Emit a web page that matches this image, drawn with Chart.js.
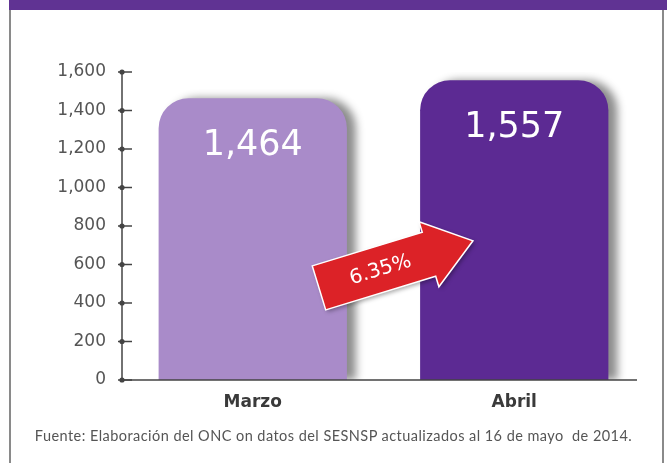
<!DOCTYPE html>
<html>
<head>
<meta charset="utf-8">
<script src="https://cdn.jsdelivr.net/npm/chart.js@4"></script>
<style>
  html, body { margin: 0; padding: 0; background: #fff; }
  #wrap { position: relative; width: 667px; height: 463px; overflow: hidden; }
  #frame { position: absolute; left: 9px; top: 0; width: 651px; height: 463px;
           border-left: 2px solid #8a8a8a; border-right: 2px solid #8a8a8a; }
  #header { position: absolute; left: 9px; top: 0; width: 658px; height: 10px; background: #603393; }
  #chart { position: absolute; left: 0; top: 0; }
  #note { position: absolute; left: 0; width: 667px; top: 427px; text-align: center;
          font-family: Lato, sans-serif; font-size: 14.5px; letter-spacing: 0.45px; color: #555; }
</style>
</head>
<body>
<div id="wrap">
  <div id="frame"></div>
  <div id="header"></div>
  <canvas id="chart" width="667" height="463"></canvas>
  <div id="note">Fuente: Elaboración del ONC on datos del SESNSP actualizados al 16 de mayo&nbsp; de 2014.</div>
</div>
<script>
// data
const months = ['Marzo', 'Abril'];
const counts = [1464, 1557];
const barColors = ['#a98bc9', '#5c2a93'];
const yTicks = [0, 200, 400, 600, 800, 1000, 1200, 1400, 1600];

const fmt = (v) => v.toLocaleString('en-US');

// drop shadow to the right of the bars
const shadowPlugin = {
  id: 'barShadow',
  beforeDatasetDraw(chart) {
    const ctx = chart.ctx;
    ctx.save();
    ctx.shadowColor = 'rgba(0,0,0,0.45)';
    ctx.shadowBlur = 9;
    ctx.shadowOffsetX = 9;
    ctx.shadowOffsetY = 0;
  },
  afterDatasetDraw(chart) { chart.ctx.restore(); }
};

// axis with dot ticks
const axisPlugin = {
  id: 'axisDots',
  afterDraw(chart) {
    const ctx = chart.ctx;
    const y = chart.scales.y, area = chart.chartArea;
    ctx.save();
    ctx.strokeStyle = '#444';
    ctx.fillStyle = '#444';
    ctx.lineWidth = 1.5;
    ctx.beginPath();
    ctx.moveTo(area.left, y.getPixelForValue(1600) - 1);
    ctx.lineTo(area.left, area.bottom);
    ctx.lineTo(area.right - 8, area.bottom);
    ctx.stroke();
    for (const t of yTicks) {
      const py = y.getPixelForValue(t);
      ctx.beginPath();
      ctx.moveTo(area.left - 4, py);
      ctx.lineTo(area.left + 10, py);
      ctx.stroke();
      ctx.beginPath();
      ctx.arc(area.left, py, 2.6, 0, Math.PI * 2);
      ctx.fill();
    }
    ctx.restore();
  }
};

// value labels inside bars and the growth arrow
const labelPlugin = {
  id: 'barLabels',
  afterDatasetsDraw(chart) {
    const ctx = chart.ctx;
    const meta = chart.getDatasetMeta(0);
    ctx.save();
    ctx.fillStyle = '#fff';
    ctx.font = '35px "DejaVu Sans"';
    ctx.textAlign = 'center';
    ctx.textBaseline = 'middle';
    meta.data.forEach((bar, i) => {
      ctx.fillText(fmt(counts[i]), bar.x, bar.y + 48);
    });

    // arrow between the two bars
    const x = chart.scales.x, y = chart.scales.y;
    const cx = (x.getPixelForValue(0) + x.getPixelForValue(1)) / 2 + 12;
    const cy = y.getPixelForValue(600);
    const pct = ((counts[1] - counts[0]) / counts[0] * 100).toFixed(2) + '%';
    ctx.translate(cx, cy);
    ctx.rotate(-17 * Math.PI / 180);
    ctx.beginPath();
    ctx.moveTo(-80, -23);
    ctx.lineTo(35, -23);
    ctx.lineTo(35, -34);
    ctx.lineTo(81, 0);
    ctx.lineTo(35, 34);
    ctx.lineTo(35, 23);
    ctx.lineTo(-80, 23);
    ctx.closePath();
    ctx.shadowColor = 'rgba(0,0,0,0.35)';
    ctx.shadowBlur = 4;
    ctx.shadowOffsetX = 2;
    ctx.shadowOffsetY = 2;
    ctx.fillStyle = '#dc2227';
    ctx.fill();
    ctx.shadowColor = 'transparent';
    ctx.strokeStyle = '#fff';
    ctx.lineWidth = 1.5;
    ctx.stroke();
    ctx.fillStyle = '#fff';
    ctx.font = '20px "DejaVu Sans"';
    ctx.fillText(pct, -16, 1);
    ctx.restore();
  }
};

new Chart(document.getElementById('chart'), {
  type: 'bar',
  data: {
    labels: months,
    datasets: [{
      data: counts,
      backgroundColor: barColors,
      borderWidth: 0,
      borderRadius: { topLeft: 30, topRight: 30, bottomLeft: 0, bottomRight: 0 },
      borderSkipped: false,
      barPercentage: 0.72,
      categoryPercentage: 1
    }]
  },
  options: {
    responsive: false,
    animation: false,
    events: [],
    layout: { padding: { top: 72, right: 22, left: 0, bottom: 0 } },
    plugins: { legend: { display: false }, tooltip: { enabled: false } },
    scales: {
      x: {
        grid: { display: false, drawTicks: false },
        border: { display: false },
        ticks: { color: '#3a3a3a', padding: 12, font: { family: 'DejaVu Sans', size: 17, weight: 'bold' } },
        afterFit(s) { s.height = 83; }
      },
      y: {
        min: 0, max: 1600,
        afterBuildTicks(s) { s.ticks = yTicks.map(v => ({ value: v })); },
        grid: { display: false, drawTicks: false },
        border: { display: false },
        ticks: { color: '#555', padding: 16, font: { family: 'DejaVu Sans', size: 17 },
                 callback: (v) => fmt(v) },
        afterFit(s) { s.width = 122; }
      }
    }
  },
  plugins: [shadowPlugin, axisPlugin, labelPlugin]
});
</script>
</body>
</html>
